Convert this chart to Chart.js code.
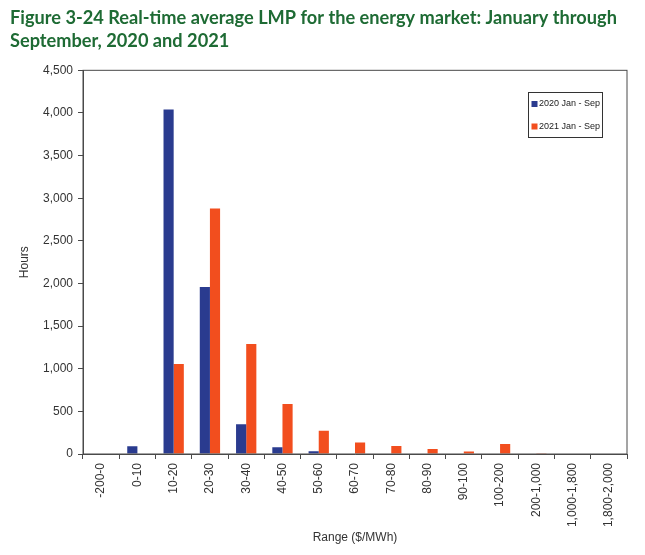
<!DOCTYPE html>
<html>
<head>
<meta charset="utf-8">
<script src="https://cdn.jsdelivr.net/npm/chart.js@4.4.1/dist/chart.umd.min.js"></script>
<style>
  body { margin: 0; background: #fff; }
  #wrap { width: 645px; height: 555px; }
</style>
</head>
<body>
<div id="wrap"><canvas id="lmpChart"></canvas></div>
<script>
const categories = [
  "-200-0", "0-10", "10-20", "20-30", "30-40", "40-50", "50-60", "60-70",
  "70-80", "80-90", "90-100", "100-200", "200-1,000", "1,000-1,800", "1,800-2,000",
];
const hours2020 = [0, 90, 4040, 1960, 350, 80, 32, 0, 0, 0, 0, 0, 0, 0, 0];
const hours2021 = [0, 0, 1055, 2880, 1290, 586, 272, 135, 95, 58, 28, 118, 10, 0, 0];
const yTicks = [0, 500, 1000, 1500, 2000, 2500, 3000, 3500, 4000, 4500];

const ctx = document.getElementById("lmpChart").getContext("2d");
const axisFont = { family: "'Liberation Sans', Arial, sans-serif", size: 12 };

// box round the plot area plus a small boxed legend in the top right corner
const frameAndLegend = {
  id: "frameAndLegend",
  afterDraw(chart) {
    const c = chart.ctx;
    const a = chart.chartArea;
    c.save();
    c.strokeStyle = "#4a4a4a";
    c.lineWidth = 1;
    c.strokeRect(a.left, a.top, a.right - a.left, a.bottom - a.top);

    const bx = 528.5, by = 92.5, bw = 74, bh = 45;
    c.fillStyle = "#fff";
    c.fillRect(bx, by, bw, bh);
    c.strokeStyle = "#333";
    c.strokeRect(bx, by, bw, bh);
    c.font = "9px 'Liberation Sans', Arial, sans-serif";
    c.textBaseline = "middle";
    chart.data.datasets.forEach((ds, i) => {
      const y = by + 11.5 + i * 22.5;
      c.fillStyle = ds.backgroundColor;
      c.fillRect(bx + 3, y - 3, 6, 6);
      c.fillStyle = "#222";
      c.fillText(ds.label, bx + 10.5, y);
    });
    c.restore();
  },
};

new Chart(ctx, {
  type: "bar",
  data: {
    labels: categories,
    datasets: [
      {
        label: "2020 Jan - Sep",
        data: hours2020,
        backgroundColor: "#2a3b8f",
        barPercentage: 1,
        categoryPercentage: 0.56,
      },
      {
        label: "2021 Jan - Sep",
        data: hours2021,
        backgroundColor: "#f24e1e",
        barPercentage: 1,
        categoryPercentage: 0.56,
      },
    ],
  },
  options: {
    responsive: true,
    maintainAspectRatio: false,
    animation: false,
    layout: { padding: { left: 10, right: 18, top: 0, bottom: 8 } },
    plugins: {
      legend: { display: false },
      tooltip: { enabled: false },
      title: {
        display: true,
        align: "start",
        text: [
          "Figure 3-24 Real-time average LMP for the energy market: January through",
          "September, 2020 and 2021",
        ],
        color: "#1e6b34",
        font: { family: "Lato, 'Noto Sans', sans-serif", size: 18.2, weight: "bold", lineHeight: 1.3 },
        padding: { top: 6, bottom: 17 },
      },
    },
    scales: {
      x: {
        grid: { drawOnChartArea: false, drawTicks: true, tickLength: 5, color: "#4a4a4a" },
        border: { color: "#4a4a4a" },
        ticks: {
          color: "#333",
          font: axisFont,
          minRotation: 90,
          maxRotation: 90,
          autoSkip: false,
          padding: 4,
        },
        title: {
          display: true,
          text: "Range ($/MWh)",
          color: "#333",
          font: axisFont,
          padding: { top: 6, bottom: 2 },
        },
        afterFit: (s) => { s.height = 93; },
      },
      y: {
        min: 0,
        max: 4500,
        afterBuildTicks: (s) => { s.ticks = yTicks.map((v) => ({ value: v })); },
        grid: { drawOnChartArea: false, drawTicks: true, tickLength: 5, color: "#4a4a4a" },
        border: { color: "#4a4a4a" },
        ticks: {
          color: "#333",
          font: axisFont,
          padding: 5,
          callback: (v) => v.toLocaleString("en-US"),
        },
        title: {
          display: true,
          text: "Hours",
          color: "#333",
          font: axisFont,
          padding: { top: 7, bottom: 4 },
        },
        afterFit: (s) => { s.width = 73; },
      },
    },
  },
  plugins: [frameAndLegend],
});
</script>
</body>
</html>
